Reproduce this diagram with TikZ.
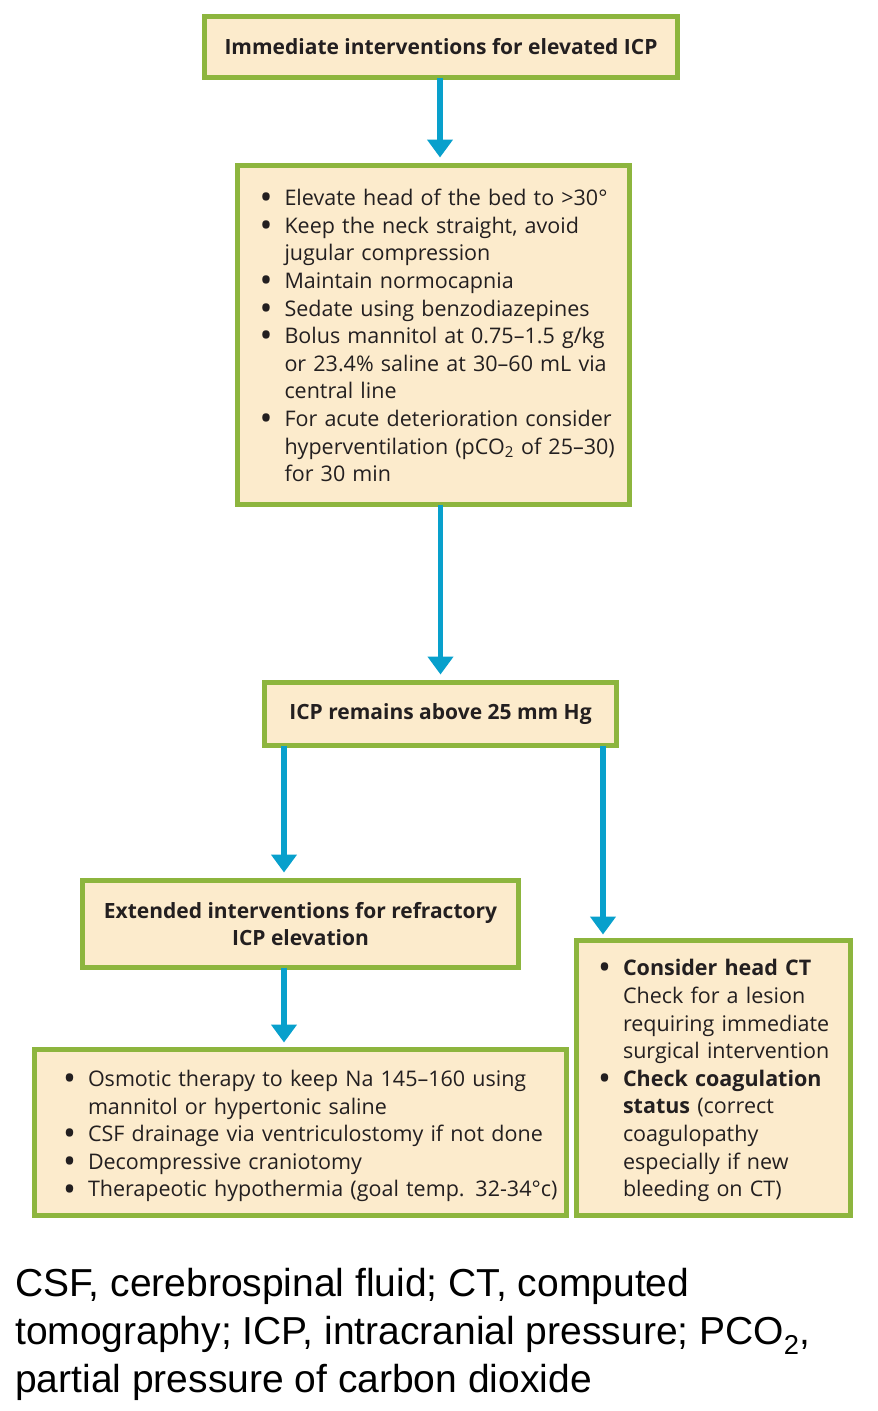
\documentclass[tikz,border=0pt]{standalone}
\usepackage{graphicx}
\usepackage{fontspec}
\setmainfont{Open Sans}
\newfontfamily\capfont{Liberation Sans}
\usetikzlibrary{arrows.meta}

\definecolor{boxgreen}{RGB}{141,181,62}
\definecolor{boxfill}{RGB}{252,235,204}
\definecolor{arrowblue}{RGB}{8,160,204}
\definecolor{inktext}{RGB}{35,31,32}

% bullet line with hanging indent: [left offset]{text}
\newcommand{\bigdot}{\smash{\raisebox{-0.19em}{\scalebox{1.6}{\textbullet}}}}
\newcommand{\bul}[2][22pt]{\par\hangindent=\dimexpr#1+25pt\relax\hangafter=1\noindent\hspace*{#1}\makebox[25pt][l]{\bigdot}#2\par}

\begin{document}
\begin{tikzpicture}[
            x = 1pt, y = -1pt,
            every node/.style={text=inktext, font=\fontsize{21.5}{27.6}\selectfont},
            box/.style={draw=boxgreen, fill=boxfill, line width=5pt, inner sep=0pt, outer sep=0pt},
            headbox/.style={box, font=\fontsize{21}{27.5}\selectfont\bfseries, align=center},
            listbox/.style={box, align=left},
            arrow/.style={draw=arrowblue, line width=5.5pt, -{Triangle[width=25pt, length=18pt]}},
            ]

        \useasboundingbox (0,0) rectangle (878,1411);

        \node[headbox, minimum width=473pt, minimum height=61pt] (immediate) at (441,47)
            {Immediate interventions for elevated ICP};

        \node[listbox, text width=392pt, minimum height=339pt] (steps) at (433.5,335) {%
            \bul{Elevate head of the bed to >30°}
            \bul{Keep the neck straight, avoid\newline jugular compression}
            \bul{Maintain normocapnia}
            \bul{Sedate using benzodiazepines}
            \bul{Bolus mannitol at 0.75–1.5 g/kg\newline or 23.4\% saline at 30–60 mL via\newline central line}
            \bul{For acute deterioration consider\newline hyperventilation (pCO\textsubscript{2} of 25–30)\newline for 30 min}
            \vspace*{10pt}};

        \node[headbox, minimum width=352pt, minimum height=63pt] (remains) at (440.5,714)
            {ICP remains above 25 mm Hg};

        \node[headbox, minimum width=436pt, minimum height=87pt] (extended) at (300.5,924)
            {Extended interventions for refractory\\ICP elevation};

        \node[listbox, text width=532pt, minimum height=166pt] (refractory) at (300.5,1132.5) {%
            \bul[28.5pt]{Osmotic therapy to keep Na 145–160 using\newline mannitol or hypertonic saline}
            \bul[28.5pt]{CSF drainage via ventriculostomy if not done}
            \bul[28.5pt]{Decompressive craniotomy}
            \bul[28.5pt]{Therapeotic hypothermia (goal temp. 32-34°c)}
            \vspace*{4pt}};

        \node[listbox, text width=274pt, minimum height=275pt] (headct) at (713.5,1078) {%
            \bul[21.5pt]{\textbf{Consider head CT}\newline Check for a lesion\newline requiring immediate\newline surgical intervention}
            \bul[21.5pt]{\textbf{Check coagulation}\newline \textbf{status} (correct\newline coagulopathy\newline especially if new\newline bleeding on CT)}
            \vspace*{6pt}};

        \coordinate (leftx) at (284,0);
        \coordinate (rightx) at (603,0);

        \draw[arrow, shorten >=8pt] (immediate.south -| 440,0) -- (steps.north -| 440,0);
        \draw[arrow, shorten >=8pt] (remains.north |- steps.south) -- (remains.north);
        \draw[arrow, shorten >=8pt] (remains.south -| leftx) -- (extended.north -| leftx);
        \draw[arrow, shorten >=6pt] (remains.south -| rightx) -- (headct.north -| rightx);
        \draw[arrow, shorten >=7pt] (extended.south -| leftx) -- (refractory.north -| leftx);

        \node[anchor=north west, align=left, inner sep=0pt, text=black,
              font=\capfont\fontsize{39}{48}\selectfont] (caption) at (15,1268)
            {CSF, cerebrospinal fluid; CT, computed\\tomography; ICP, intracranial pressure; PCO\textsubscript{2},\\partial pressure of carbon dioxide};
    \end{tikzpicture}
\end{document}
